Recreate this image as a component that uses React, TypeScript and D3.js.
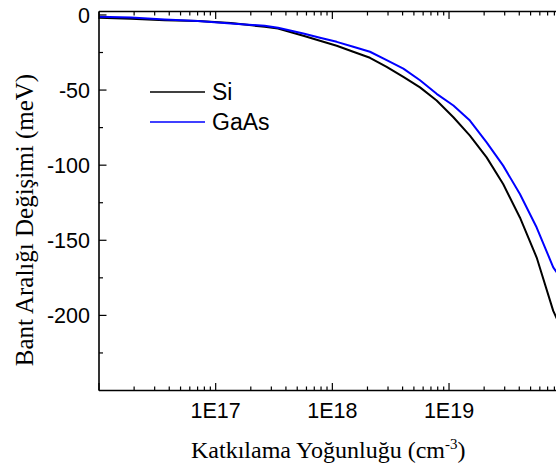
import React from "react";
import * as d3 from "d3";

// Doping concentration (cm^-3)
const concentration = [
  1.0e16, 1.88e16, 3.65e16, 7.05e16, 1.35e17, 2.63e17, 3.42e17, 5.64e17, 7.83e17,
  1.09e18, 1.51e18, 2.1e18, 2.92e18, 4.06e18, 5.64e18, 7.83e18, 1.09e19, 1.51e19,
  2.1e19, 2.91e19, 4.05e19, 5.64e19, 7.82e19, 1.0e20,
];
// Band gap change (meV)
const siValues = [
  -1.9, -2.5, -3.5, -4.0, -5.4, -7.9, -9.0, -13.9, -17.2, -20.5, -24.5, -28.5, -34.5,
  -41.2, -48.2, -57.0, -68.1, -80.3, -94.8, -112.5, -134.8, -161.5, -197.0, -215.0,
];
const gaasValues = [
  -1.2, -1.7, -3.0, -4.1, -5.7, -7.2, -8.5, -12.3, -15.2, -17.9, -21.2, -24.5, -30.1,
  -35.7, -43.5, -52.5, -60.3, -70.3, -84.8, -100.3, -119.2, -141.5, -168.0, -180.0,
];
const seriesNames = ["Si", "GaAs"];
const seriesColors = ["#000000", "#0000ff"];
const xTickValues = [1e17, 1e18, 1e19];
const xTickLabels = ["1E17", "1E18", "1E19"];
const yTickValues = [0, -50, -100, -150, -200];
const yTickLabels = ["0", "-50", "-100", "-150", "-200"];

const W = 556;
const H = 470;
const L = 99;
const R = 565.7;
const T = 11.5;
const B = 390.5;

export default function App() {
  const x = d3.scaleLog().domain([1e16, 1e20]).range([L, R]);
  const y = d3.scaleLinear().domain([-250, 2.3]).range([B, T]);

  const series = [siValues, gaasValues];
  const line = d3
    .line<number>()
    .x((_, i) => x(concentration[i]))
    .y((d) => y(d));

  const minorX: number[] = [];
  for (let e = 16; e < 20; e++) {
    for (let m = 2; m <= 9; m++) minorX.push(m * Math.pow(10, e));
  }
  const majorX = [1e16, 1e17, 1e18, 1e19, 1e20];
  const minorY = d3.range(-225, 1, 50);

  const sans = "'Liberation Sans', Arial, sans-serif";
  const serif = "'Liberation Serif', 'Times New Roman', serif";

  return (
    <svg
      width={W}
      height={H}
      style={{ position: "fixed", left: 0, top: 0, background: "#fff" }}
    >
      <defs>
        <clipPath id="plotClip">
          <rect x={L} y={T} width={R - L} height={B - T} />
        </clipPath>
      </defs>

      {/* data lines */}
      <g clipPath="url(#plotClip)">
        {series.map((s, i) => (
          <path
            key={i}
            d={line(s) || ""}
            fill="none"
            stroke={seriesColors[i]}
            strokeWidth={2}
            strokeLinejoin="round"
          />
        ))}
      </g>

      {/* ticks */}
      <g stroke="#000" strokeWidth={1.2}>
        {majorX.map((v, i) => (
          <g key={"mx" + i}>
            <line x1={x(v)} x2={x(v)} y1={B} y2={B - 7.5} />
            <line x1={x(v)} x2={x(v)} y1={T} y2={T + 7.5} />
          </g>
        ))}
        {minorX.map((v, i) => (
          <g key={"nx" + i}>
            <line x1={x(v)} x2={x(v)} y1={B} y2={B - 4} />
            <line x1={x(v)} x2={x(v)} y1={T} y2={T + 4} />
          </g>
        ))}
        {yTickValues.map((v, i) => (
          <line key={"my" + i} x1={L} x2={L + 7.5} y1={y(v)} y2={y(v)} />
        ))}
        {minorY.map((v, i) => (
          <line key={"ny" + i} x1={L} x2={L + 4} y1={y(v)} y2={y(v)} />
        ))}
      </g>

      {/* axes frame */}
      <g stroke="#000" strokeWidth={1.6} fill="none">
        <line x1={L} x2={L} y1={T} y2={B} />
        <line x1={L} x2={R} y1={B} y2={B} />
        <line x1={L} x2={R} y1={T} y2={T} />
        <line x1={R} x2={R} y1={T} y2={B} />
      </g>

      {/* tick labels */}
      <g fontFamily={sans} fontSize={21.5} fill="#000">
        {yTickValues.map((v, i) => (
          <text key={"yl" + i} x={90} y={y(v)} dy="0.36em" textAnchor="end">
            {yTickLabels[i]}
          </text>
        ))}
        {xTickValues.map((v, i) => (
          <text key={"xl" + i} x={x(v)} y={417.5} textAnchor="middle">
            {xTickLabels[i]}
          </text>
        ))}
      </g>

      {/* legend */}
      <g fontFamily={sans} fontSize={23}>
        {seriesNames.map((n, i) => (
          <g key={"lg" + i}>
            <line
              x1={150}
              x2={205}
              y1={92 + i * 30}
              y2={92 + i * 30}
              stroke={seriesColors[i]}
              strokeWidth={1.6}
            />
            <text x={212} y={92 + i * 30} dy="0.36em" fill="#000">
              {n}
            </text>
          </g>
        ))}
      </g>

      {/* axis titles */}
      <text fontFamily={serif} fontSize={24} x={191} y={457.5} fill="#000">
        Katkılama Yoğunluğu (cm
        <tspan dy={-9} fontSize={15}>-3</tspan>
        <tspan dy={9}>)</tspan>
      </text>
      <text
        fontFamily={serif}
        fontSize={25}
        transform={`translate(32.5, 220) rotate(-90)`}
        textAnchor="middle"
        fill="#000"
      >
        Bant Aralığı Değişimi (meV)
      </text>
    </svg>
  );
}
